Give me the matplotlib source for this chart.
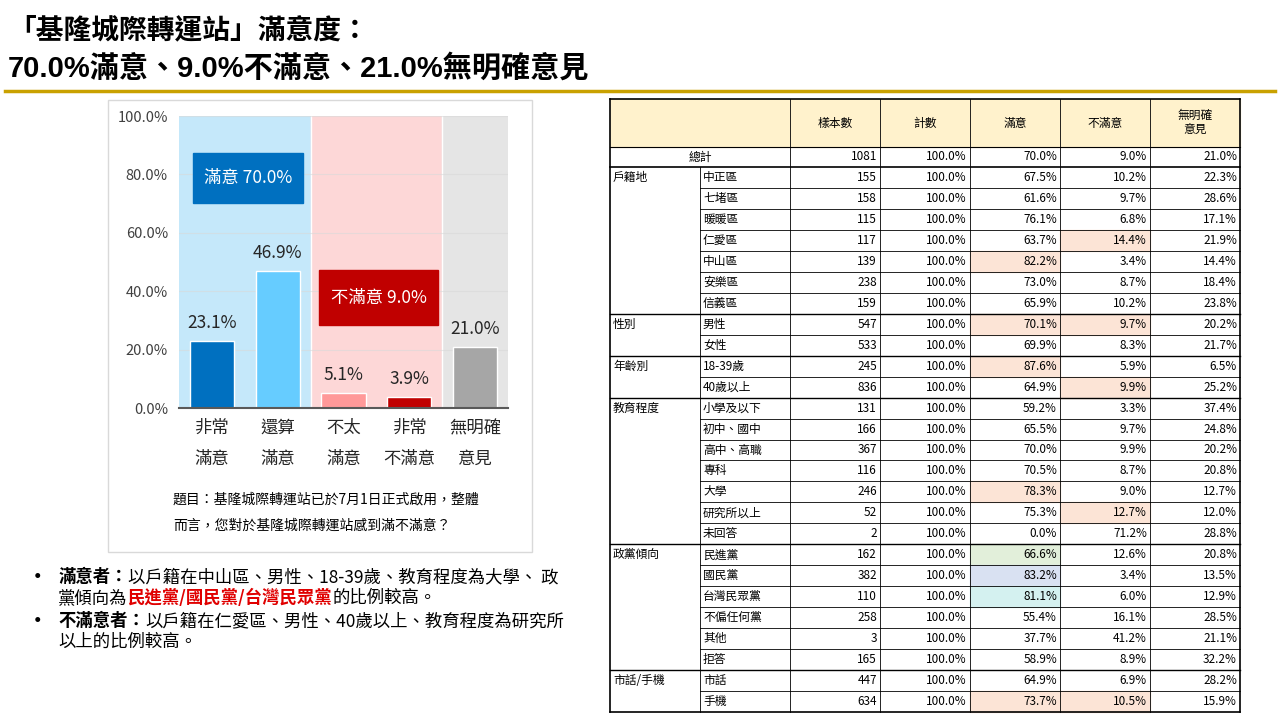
import matplotlib
matplotlib.use("Agg")
import matplotlib.pyplot as plt
from matplotlib.patches import Rectangle

plt.rcParams['font.family'] = ['Noto Sans CJK TC', 'DejaVu Sans']

# ---------------- data ----------------
bar_labels = ["非常\n滿意", "還算\n滿意", "不太\n滿意", "非常\n不滿意", "無明確\n意見"]
bar_values = [23.1, 46.9, 5.1, 3.9, 21.0]
bar_colors = ["#0070C0", "#66CCFF", "#FF9999", "#C00000", "#A6A6A6"]
sat_total = 70.0
dis_total = 9.0
yticks = [0, 20, 40, 60, 80, 100]

header = ["樣本數", "計數", "滿意", "不滿意", "無明確\n意見"]
total_row = ["總計", 1081, 100.0, 70.0, 9.0, 21.0]
groups = ["戶籍地", "性別", "年齡別", "教育程度", "政黨傾向", "市話/手機"]
group_rows = [
    ["中正區", "七堵區", "暖暖區", "仁愛區", "中山區", "安樂區", "信義區"],
    ["男性", "女性"],
    ["18-39歲", "40歲以上"],
    ["小學及以下", "初中、國中", "高中、高職", "專科", "大學", "研究所以上", "未回答"],
    ["民進黨", "國民黨", "台灣民眾黨", "不偏任何黨", "其他", "拒答"],
    ["市話", "手機"],
]
n_vals = [155, 158, 115, 117, 139, 238, 159, 547, 533, 245, 836, 131, 166, 367, 116, 246, 52, 2,
          162, 382, 110, 258, 3, 165, 447, 634]
sat_vals = [67.5, 61.6, 76.1, 63.7, 82.2, 73.0, 65.9, 70.1, 69.9, 87.6, 64.9, 59.2, 65.5, 70.0, 70.5,
            78.3, 75.3, 0.0, 66.6, 83.2, 81.1, 55.4, 37.7, 58.9, 64.9, 73.7]
dis_vals = [10.2, 9.7, 6.8, 14.4, 3.4, 8.7, 10.2, 9.7, 8.3, 5.9, 9.9, 3.3, 9.7, 9.9, 8.7, 9.0, 12.7,
            71.2, 12.6, 3.4, 6.0, 16.1, 41.2, 8.9, 6.9, 10.5]
none_vals = [22.3, 28.6, 17.1, 21.9, 14.4, 18.4, 23.8, 20.2, 21.7, 6.5, 25.2, 37.4, 24.8, 20.2, 20.8,
             12.7, 12.0, 28.8, 20.8, 13.5, 12.9, 28.5, 21.1, 32.2, 28.2, 15.9]
# highlight codes: o=orange g=green b=blue c=cyan
sat_hl = ["", "", "", "", "o", "", "", "o", "", "o", "", "", "", "", "", "o", "", "",
          "g", "b", "c", "", "", "", "", "o"]
dis_hl = ["", "", "", "o", "", "", "", "o", "", "", "o", "", "", "", "", "", "o", "",
          "", "", "", "", "", "", "", "o"]
hl_colors = {"o": "#FCE4D6", "g": "#E2EFDA", "b": "#D9E1F2", "c": "#D4F1F0"}

# ---------------- figure ----------------
fig = plt.figure(figsize=(12.8, 7.2), dpi=100)
bg = fig.add_axes([0, 0, 1, 1])
bg.set_xlim(0, 1280); bg.set_ylim(720, 0); bg.axis("off")

bg.text(8, 30, "「基隆城際轉運站」滿意度：", fontsize=20, fontweight="bold", va="center")
bg.text(8, 68, "70.0%滿意、9.0%不滿意、21.0%無明確意見", fontsize=21, fontweight="bold", va="center",
        family=["Liberation Sans", "Noto Sans CJK TC"])
bg.plot([5, 1275], [91, 91], color="#C9A100", lw=2.5)

# chart panel
bg.add_patch(Rectangle((108, 100), 424, 452, fill=False, ec="#D9D9D9", lw=1))
bg.text(173, 500, "題目：基隆城際轉運站已於7月1日正式啟用，整體", fontsize=10, va="center")
bg.text(173, 526, "而言，您對於基隆城際轉運站感到滿不滿意？", fontsize=10, va="center")

# bullets
def rich(x, y, parts, size=12.5):
    r = fig.canvas.get_renderer()
    for s, col, w in parts:
        t = bg.text(x, y, s, fontsize=size, color=col, fontweight=w, va="center")
        bb = t.get_window_extent(renderer=r)
        x += bb.width
bg.text(28, 577, "•", fontsize=14, va="center", fontweight="bold")
rich(58, 577, [("滿意者：", "black", "bold"), ("以戶籍在中山區、男性、18-39歲、教育程度為大學、 政", "black", "normal")])
rich(58, 598, [("黨傾向為", "black", "normal"), ("民進黨/國民黨/台灣民眾黨", "#E00000", "bold"), ("的比例較高。", "black", "normal")])
bg.text(28, 621, "•", fontsize=14, va="center", fontweight="bold")
rich(58, 621, [("不滿意者：", "black", "bold"), ("以戶籍在仁愛區、男性、40歲以上、教育程度為研究所", "black", "normal")])
rich(58, 642, [("以上的比例較高。", "black", "normal")])

# bar chart
ax = fig.add_axes([179 / 1280, 1 - 408 / 720, 329 / 1280, 292 / 720])
x = list(range(len(bar_values)))
ax.set_xlim(-0.5, 4.5); ax.set_ylim(0, 100)
ax.axvspan(-0.5, 1.5, color="#C5E8FA", zorder=0)
ax.axvspan(1.5, 3.5, color="#FDD7D7", zorder=0)
ax.axvspan(3.5, 4.5, color="#E5E5E5", zorder=0)
ax.axvline(1.5, color="white", lw=1, zorder=0.5)
ax.axvline(3.5, color="white", lw=1, zorder=0.5)
for yt in yticks[1:]:
    ax.axhline(yt, color="#D9D9D9", lw=0.8, alpha=0.6, zorder=0.6)
ax.bar(x, bar_values, width=0.67, color=bar_colors, edgecolor="white", lw=1, zorder=2)
for xi, v in zip(x, bar_values):
    ax.text(xi, v + 3, f"{v:.1f}%", ha="center", va="bottom", fontsize=12.5, color="#262626", zorder=3)
ax.add_patch(Rectangle((-0.29, 70.2), 1.67, 17.1, color="#0070C0", zorder=3))
ax.text(0.545, 78.8, f"滿意 {sat_total:.1f}%", color="white", ha="center", va="center", fontsize=12.5, zorder=4)
ax.add_patch(Rectangle((1.63, 28.4), 1.81, 18.9, color="#C00000", zorder=3))
ax.text(2.535, 37.8, f"不滿意 {dis_total:.1f}%", color="white", ha="center", va="center", fontsize=12.5, zorder=4)
ax.set_yticks(yticks)
ax.set_yticklabels([f"{v:.1f}%" for v in yticks], fontsize=10.5, color="#404040")
ax.set_xticks(x)
ax.set_xticklabels(bar_labels, fontsize=12.5, color="#262626", linespacing=1.9)
ax.tick_params(length=0, pad=8)
for s in ["top", "right", "left"]:
    ax.spines[s].set_visible(False)
ax.spines["bottom"].set_color("#595959"); ax.spines["bottom"].set_linewidth(1.5)

# table
cols = [610, 700, 790, 880, 970, 1060, 1150, 1240]
top, hdr_b, tot_b, bot = 99, 147, 167, 712
nrows = len(n_vals)
rh = (bot - tot_b) / nrows
fs = 8.5
bg.add_patch(Rectangle((cols[0], top), cols[-1] - cols[0], hdr_b - top, color="#FFF2CC", zorder=1))
for i, h in enumerate(header):
    bg.text((cols[i + 2] + cols[i + 3]) / 2, (top + hdr_b) / 2, h, ha="center", va="center", fontsize=fs, linespacing=1.2, zorder=3)
bg.text((cols[0] + cols[2]) / 2, (hdr_b + tot_b) / 2, total_row[0], ha="center", va="center", fontsize=fs, zorder=3)
tv = [str(total_row[1])] + [f"{v:.1f}%" for v in total_row[2:]]
for j, s in enumerate(tv):
    bg.text(cols[j + 3] - 3, (hdr_b + tot_b) / 2, s, ha="right", va="center", fontsize=fs, zorder=3)
r = 0
group_starts = []
for g, names in zip(groups, group_rows):
    group_starts.append(r)
    bg.text(cols[0] + 3, tot_b + r * rh + rh / 2, g, ha="left", va="center", fontsize=fs, zorder=3)
    for name in names:
        yc = tot_b + r * rh + rh / 2
        y0 = tot_b + r * rh
        if sat_hl[r]:
            bg.add_patch(Rectangle((cols[4], y0), cols[5] - cols[4], rh, color=hl_colors[sat_hl[r]], zorder=1))
        if dis_hl[r]:
            bg.add_patch(Rectangle((cols[5], y0), cols[6] - cols[5], rh, color=hl_colors[dis_hl[r]], zorder=1))
        bg.text(cols[1] + 3, yc, name, ha="left", va="center", fontsize=fs, zorder=3)
        vals = [str(n_vals[r]), "100.0%", f"{sat_vals[r]:.1f}%", f"{dis_vals[r]:.1f}%", f"{none_vals[r]:.1f}%"]
        for j, s in enumerate(vals):
            bg.text(cols[j + 3] - 3, yc, s, ha="right", va="center", fontsize=fs, zorder=3)
        r += 1
lc = "black"
bg.plot([cols[0], cols[-1]], [top, top], color=lc, lw=1.2, zorder=4)
bg.plot([cols[0], cols[-1]], [hdr_b, hdr_b], color=lc, lw=0.8, zorder=4)
bg.plot([cols[0], cols[-1]], [tot_b, tot_b], color=lc, lw=1.2, zorder=4)
bg.plot([cols[0], cols[-1]], [bot, bot], color=lc, lw=1.2, zorder=4)
for k in range(1, nrows):
    yy = tot_b + k * rh
    if k in group_starts:
        bg.plot([cols[0], cols[-1]], [yy, yy], color=lc, lw=1.0, zorder=4)
    else:
        bg.plot([cols[1], cols[-1]], [yy, yy], color=lc, lw=0.6, zorder=4)
for i, cx in enumerate(cols):
    if i == 1:
        bg.plot([cx, cx], [tot_b, bot], color=lc, lw=0.6, zorder=4)
    else:
        bg.plot([cx, cx], [top, bot], color=lc, lw=1.2 if i in (0, len(cols) - 1) else 0.6, zorder=4)

fig.savefig("out.png", dpi=100)
